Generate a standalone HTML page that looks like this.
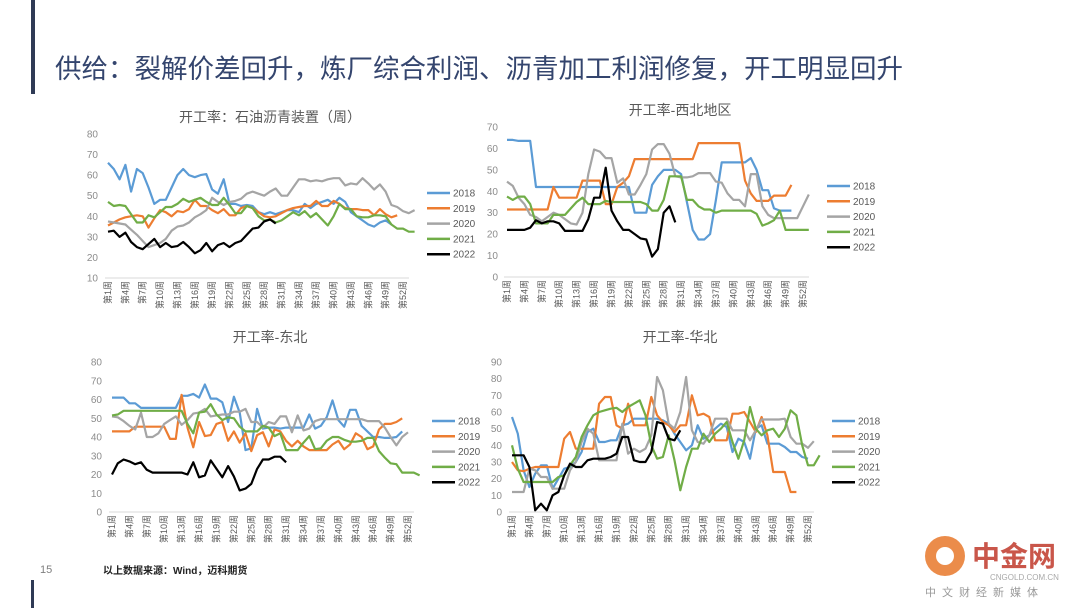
<!DOCTYPE html>
<html><head><meta charset="utf-8">
<style>
html,body{margin:0;padding:0;background:#fff;}
body{width:1080px;height:608px;overflow:hidden;position:relative;font-family:"Liberation Sans","Noto Sans CJK SC",sans-serif;}
</style></head>
<body>
<svg id="page" width="1080" height="608" viewBox="0 0 1080 608" xmlns="http://www.w3.org/2000/svg" style="position:absolute;left:0;top:0">
  <rect x="31" y="0" width="4" height="94" fill="#2f3a55"/>
  <rect x="31" y="580" width="3" height="28" fill="#2f3a55"/>
  <text x="55" y="78" font-size="26.5" fill="#34456e" font-family="Liberation Sans, Noto Sans CJK SC, sans-serif">供给：裂解价差回升，炼厂综合利润、沥青加工利润修复，开工明显回升</text>
  <text x="40" y="573" font-size="11" fill="#7f7f7f">15</text>
  <text x="103" y="574" font-size="10" fill="#222" font-weight="bold" font-family="Liberation Sans, Noto Sans CJK SC, sans-serif">以上数据来源：Wind，迈科期货</text>
  <g opacity="0.85">
    <circle cx="945" cy="556" r="20" fill="#e8792b"/>
    <circle cx="945" cy="556" r="9" fill="#fff"/>
    <text x="972" y="566" font-size="28" font-weight="bold" fill="#c0392b" font-family="Liberation Sans, Noto Sans CJK SC, sans-serif">中金网</text>
    <text x="990" y="580" font-size="8" fill="#999">CNGOLD.COM.CN</text>
    <text x="925" y="596" font-size="11" fill="#888" letter-spacing="6" font-family="Liberation Sans, Noto Sans CJK SC, sans-serif">中文财经新媒体</text>
  </g>
  <g id="charts"></g>
</svg>
<script>
const seriesNames = ["2018","2019","2020","2021","2022"];
const seriesColors = ["#5b9bd5","#ed7d31","#a5a5a5","#70ad47","#000000"];

// Chart 1: 石油沥青装置
const c1Ticks = [10,20,30,40,50,60,70,80];
const c1s2018 = [66,63,58,65,52,63,61,54,46,48,48,54,60,63,60,59,60,60.5,53,51,58,46,46,45,45.5,45,42,41,42,41,42,43,43,42,46,44,46,47,48,46,49,47,42,40,38,36,35,37,38,36];
const c1s2019 = [35.5,37,38.5,39.5,40,40.5,40,34.5,39,43,42,40,42.5,42,43.5,48,45,45,43,41.5,43.5,40.5,40.5,44,45,44,42,40,39.5,40,41.5,43,44,44.5,45,45,47.5,45,45,47.5,46,44,43.5,43.5,43,43,40.5,43.5,41,39.5,40.5];
const c1s2020 = [37.5,37,36.5,36,33.5,31,28,25,26,27,29,33,35,35.5,37,39.5,41,43,49,47,45.5,47,47.5,48.5,51,52,51,50,52,53.5,50,50,54,58,58,57,57.5,57,58,58.5,58.5,55,56,55.5,58.5,56,53,55.5,52,45.5,44.5,42.5,41.5,43];
const c1s2021 = [47,45,45.5,45,41,37,37,40.5,39.5,42,44.5,44.5,46,48.5,47,48,49,47,45.5,45.5,49,45.5,41.5,41.5,45,44,40,38,38.5,37,38,40,42,40.5,42.5,39.5,41.5,38.5,35.5,40,46,43.5,43.5,40,39.5,39.5,40.5,40.5,40,36,34,34,32.5,32.5];
const c1s2022 = [32.5,33,30,32,27.5,25,24,26.5,29,25,27,25,25.5,27.5,25,22,23.5,27,23,26,27,25,27,28,31,34,34.5,37.5,38.5,36.5];

// Chart 2: 西北地区
const c2Ticks = [0,10,20,30,40,50,60,70];
const c2s2018 = [64,64,63.5,63.5,63.5,42,42,42,42,42,42,42,42,42,42,42,42,42,42,42,42,42,30,30,30,43,47,50,50,50,48,35,22,17.5,17.5,20,36,53.5,53.5,53.5,53.5,53.5,55.5,50,40.5,40.5,32,31,31,31];
const c2s2019 = [31.5,31.5,31.5,31.5,31.5,31.5,31.5,31.5,42,37,37,37,37,45,45,45,45,34,34,42,44,47,55,55,55,55,55,55,55,55,55,55,55,62.5,62.5,62.5,62.5,62.5,62.5,62.5,62.5,45,39,35.5,35.5,35.5,38,38,38,43];
const c2s2020 = [44.5,42.5,37,34,29,28,26,28,30,29,27,25,24.5,30,48,59.5,58.5,55.5,55.5,44,46,38.5,38.5,43,48,59.5,62,62,57.5,47,46.5,46.5,47,48.5,48.5,48.5,44.5,44,39,36,36,33,48,48,33,29,27.5,27.5,27.5,27.5,27.5,33,38.5];
const c2s2021 = [37.5,36,37.5,37.5,34,25,25,25,29,29,29,32,35,37,34,34,34,35.5,35,35,35,35,35,35,34,31,31,36,47,47,47,36,36,33,31.5,31.5,30,31,31,31,31,31,31,29.5,24,25,26.5,31,22,22,22,22,22];
const c2s2022 = [22,22,22,22,23,26.5,25,26,26,25,21.5,21.5,21.5,21.5,27,37,37,51,31,26,22,22,20,18,17.5,9.5,13,30,33,25.5];

// Chart 3: 东北
const c3Ticks = [0,10,20,30,40,50,60,70,80];
const c3s2018 = [61,61,61,58,58,55.5,55.5,55.5,55.5,55.5,55.5,55.5,62,62,63,61,68,60.5,60.5,58.5,48,61.5,53,33,34,55,44.5,45,45,44.5,45,45,45,45,52,44.5,46,50.5,59.5,49,45.5,54.5,54.5,46,43,40,40,39.5,39.5,40,43];
const c3s2019 = [43,43,43,43,45.5,45.5,45.5,45.5,45.5,45.5,39,39,62.5,45,34.5,48,40.5,41,47,48,38,43,37,42,32.5,41,42.5,35,44,43,38,35,38,35,33,33,33,33,36,38,33.5,36,42,40,33.5,35,44,47,47,48,50];
const c3s2020 = [51,50.5,48.5,46,44,53,40,40,42,47,49,51,46.5,49,52.5,53,55,51,51.5,52,52,53.5,53.5,55,48,48,45,48,47,51,51,42.5,51.5,43.5,44.5,48.5,49.5,49.5,49.5,49.5,49.5,49.5,49.5,49.5,48.5,48.5,48.5,45,40,35.5,40,42.5];
const c3s2021 = [51.5,52,54,54,54,54,54,54,54,54,54,54,54,47,42,53,53.5,57.5,52,49,50.5,50,45.5,43,43,43,46,45,40.5,42,33,33,33,37,40.5,33.5,34,38,40,40,38.5,37.5,37.5,38,39.5,39.5,32.5,29,26,25.5,21,21,21,19.5];
const c3s2022 = [20,26,28,27,25.5,26.5,22.5,21,21,21,21,21,21,20,26.5,18.5,19.5,27.5,23,18.5,24.5,19,11.5,12.5,15,23,28,28,29.5,29.5,26.5];

// Chart 4: 华北
const c4Ticks = [0,10,20,30,40,50,60,70,80,90];
const c4s2018 = [57,47,25,15,23,28,28,14,20,26,27,30,36,48,50,42,42,43,43,52,53,56,56,56,56,56,55,53,47,42,37,40,52,44,46,50,53,51,36,44,42,32,50,52,41,41,41,39,36,36,33,32];
const c4s2019 = [30,25,24.5,26,27,27,27,27,27,44,48,38,38,38,38,65,69,69,52,50,65,52,52,52,69,58,54,52,48,52,52,70,58,59,57,43,43,43,59,59,60,54,48,57,46,24,24,24,12,12];
const c4s2020 = [12,12,12,26,25,21,21,14,14,14,25,30,42,50,47,31,31,31,31,53,35,38,36,38,46,81,73,53,50,60,81,49,42,41,46,56,56,56,49,49,49,43,49,55.5,55.5,55.5,55.5,56,45,41,41,38.5,42.5];
const c4s2021 = [40,26,18,18,18,18,18,18,21,22,28,33,45,52,58,60,61,62,62.5,60,63,65,67,58,40,32,33,46,31,13,27,38,38,47,42,47,50,54,42,32,43,63,50,46,49,50,45,50,61,58,40,28,28,34];
const c4s2022 = [34,34,34,27,1,5,1,10,12,22,29,27,27,31,32,32,32,33,35,45,45,31,30,30,36,54,53,44,43,49];

const weekTicks = [1,4,7,10,13,16,19,22,25,28,31,34,37,40,43,46,49,52];

const charts = [
  {name:"chart-petroleum-asphalt", title:"开工率：石油沥青装置（周）", tx:270, ty:122, ticks:c1Ticks, series:[c1s2018,c1s2019,c1s2020,c1s2021,c1s2022],
   x0:108, x52:403, yTop:134, yBot:278, yLabX:98, legX:427, legY:193},
  {name:"chart-northwest", title:"开工率-西北地区", tx:680, ty:115, ticks:c2Ticks, series:[c2s2018,c2s2019,c2s2020,c2s2021,c2s2022],
   x0:507, x52:803, yTop:127, yBot:277, yLabX:498, legX:827, legY:186},
  {name:"chart-northeast", title:"开工率-东北", tx:270, ty:342, ticks:c3Ticks, series:[c3s2018,c3s2019,c3s2020,c3s2021,c3s2022],
   x0:112, x52:408, yTop:362, yBot:512, yLabX:102, legX:432, legY:421},
  {name:"chart-north-china", title:"开工率-华北", tx:680, ty:342, ticks:c4Ticks, series:[c4s2018,c4s2019,c4s2020,c4s2021,c4s2022],
   x0:512, x52:808, yTop:362, yBot:512, yLabX:502, legX:832, legY:421}
];

const NS = "http://www.w3.org/2000/svg";
const root = document.getElementById("charts");
function mk(tag, attrs, parent){ const e=document.createElementNS(NS,tag); for(const k in attrs) e.setAttribute(k,attrs[k]); parent.appendChild(e); return e; }

charts.forEach(c=>{
  const g = mk("g",{},root);
  
  
  const tMin=c.ticks[0], tMax=c.ticks[c.ticks.length-1];
  const xs = w => c.x0 + (w-1)*(c.x52-c.x0)/51;
  const ys = v => c.yBot - (v-tMin)*(c.yBot-c.yTop)/(tMax-tMin);
  const t = mk("text",{x:c.tx,y:c.ty,"font-size":14,fill:"#595959","text-anchor":"middle","font-family":"Liberation Sans, Noto Sans CJK SC, sans-serif"},g);
  t.textContent = c.title;
  
  
  c.ticks.forEach(v=>{
    const l = mk("text",{x:c.yLabX,y:ys(v)+3.5,"font-size":10,fill:"#8c8c8c","text-anchor":"end"},g);
    l.textContent = v;
    
    
  });
  const ax = mk("line",{x1:c.x0-3,x2:c.x52+6,y1:c.yBot,y2:c.yBot,stroke:"#d9d9d9","stroke-width":1},g);
  
  
  weekTicks.forEach(w=>{
    const x=xs(w), y=c.yBot+3;
    const l = mk("text",{x:0,y:0,"font-size":9,fill:"#595959","text-anchor":"end",transform:`translate(${x+3},${y}) rotate(-90)`,"font-family":"Liberation Sans, Noto Sans CJK SC, sans-serif"},g);
    l.textContent = "第"+w+"周";
    
    
  });
  c.series.forEach((arr,i)=>{
    const d = arr.map((v,k)=>(k?"L":"M")+xs(k+1).toFixed(1)+","+ys(v).toFixed(1)).join("");
    const p = mk("path",{d:d,fill:"none",stroke:seriesColors[i],"stroke-width":2.2,"stroke-linejoin":"round"},g);
    
    
    const ly = c.legY + i*15.3;
    const lg = mk("g",{},g);
    
    
    mk("line",{x1:c.legX,x2:c.legX+23,y1:ly,y2:ly,stroke:seriesColors[i],"stroke-width":2.5},lg);
    const lt = mk("text",{x:c.legX+26,y:ly+3.5,"font-size":10,fill:"#595959"},lg);
    lt.textContent = seriesNames[i];
  });
});
</script>
</body></html>
